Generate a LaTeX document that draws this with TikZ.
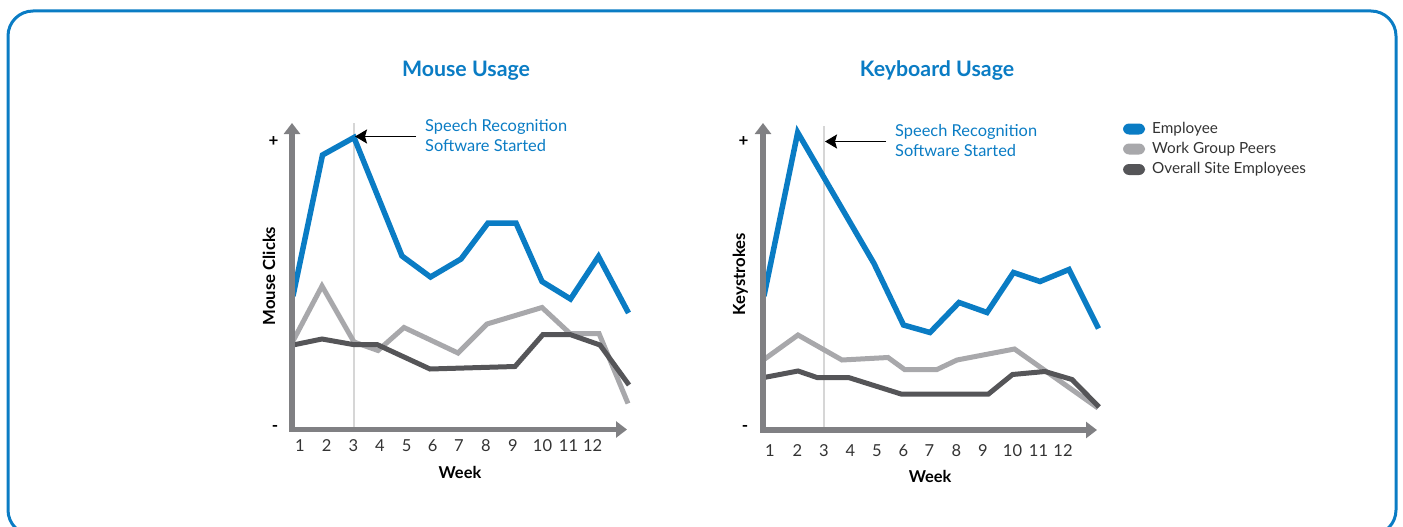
\documentclass[tikz,border=0pt]{standalone}
\usepackage{fontspec}
\setmainfont{Lato}
\usetikzlibrary{arrows.meta}
\definecolor{ibl}{HTML}{0A7CC4}
\definecolor{axg}{HTML}{808083}
\definecolor{lgr}{HTML}{A8A8AB}
\definecolor{dgr}{HTML}{555558}
\definecolor{vln}{HTML}{D6D6D6}
\begin{document}
\begin{tikzpicture}[x=1pt,y=-1pt,
  axisline/.style={axg, line width=5.5pt, {Triangle[width=16pt,length=11pt]}-{Triangle[width=16pt,length=11pt]}},
  refline/.style={vln, line width=2pt},
  empline/.style={ibl, line width=5.5pt},
  peerline/.style={lgr, line width=5pt},
  siteline/.style={dgr, line width=5pt},
  note/.style={black, line width=1.6pt, -{Stealth[width=14pt,length=12pt,inset=2pt]}},
  ttl/.style={ibl, font=\fontsize{21.3}{24}\selectfont\bfseries, anchor=base},
  ann/.style={ibl, font=\fontsize{16.4}{19}\selectfont, anchor=base west, inner sep=0pt},
  wk/.style={font=\fontsize{16.5}{18}\selectfont, text=black!80, anchor=base, inner sep=0pt},
  wklbl/.style={font=\fontsize{16.4}{19}\selectfont\bfseries, anchor=base, inner sep=0pt},
  ylbl/.style={font=\fontsize{16.7}{19}\selectfont\bfseries, rotate=90, anchor=base, inner sep=0pt},
  pm/.style={font=\fontsize{17}{19}\selectfont\bfseries, inner sep=0pt},
  leg/.style={font=\fontsize{15.3}{18}\selectfont, text=black!80, anchor=west, inner sep=0pt},
  pill/.style={rounded corners=6pt, draw=none}]
\useasboundingbox (0,0) rectangle (1403,527);
% frame
\draw[ibl, line width=3pt, rounded corners=25pt] (8,11) rectangle (1396,535);

% ================= Chart 1: Mouse Usage =================
\node[ttl] (t1) at (466,77) {Mouse Usage};
\coordinate (o1) at (292,429.5);
\coordinate (ya1) at (292,123);
\coordinate (xa1) at (627,429.5);
\coordinate (r1t) at (354,123);
\coordinate (r1b) at (354,427);
\draw[refline] (r1t) -- (r1b);
\draw[peerline] plot coordinates {(293,341) (322,286) (354,342) (378,350.5) (404,327.5) (458,353) (487,324) (542,307.5) (570,333.5) (599,333.5) (628,403.5)};
\draw[siteline] plot coordinates {(293,345) (322,339) (353,344.5) (377,344.5) (430,369) (515,366.5) (543,334.5) (570,334.5) (600,345) (629,385)};
\draw[empline] plot coordinates {(293,296) (322.5,155) (354,137.5) (402,256) (430.5,277) (461,259) (488,223) (516,223) (542,281.5) (570.5,299) (598.5,256.5) (628.5,313)};
\draw[axisline] (ya1) -- (o1) -- (xa1);
\node[pm] (p1) at (273.5,141.5) {+};
\node[pm] (m1) at (275,428) {-};
\node[ylbl] (yl1) at (275,276) {Mouse Clicks};
\foreach \n/\xx in {1/300,2/326.7,3/353.3,4/380,5/406.7,6/432.7,7/459,8/486,9/513,10/542.5,11/568.5,12/592.7}
  \node[wk] (w1-\n) at (\xx,451.7) {\n};
\node[wklbl] (wl1) at (460,478.3) {Week};
\coordinate (n1s) at (416,136.5);
\coordinate (n1e) at (355,136.5);
\draw[note] (n1s) -- (n1e);
\node[ann] (a1a) at (425,131.5) {Speech Recognition};
\node[ann] (a1b) at (425,151.7) {Software Started};

% ================= Chart 2: Keyboard Usage =================
\node[ttl] (t2) at (937,77) {Keyboard Usage};
\coordinate (o2) at (763,430);
\coordinate (ya2) at (763,123);
\coordinate (xa2) at (1097,430);
\coordinate (r2t) at (824,126);
\coordinate (r2b) at (824,428);
\draw[refline] (r2t) -- (r2b);
\draw[peerline] plot coordinates {(764,359.5) (798,335) (842,360) (888,357.5) (904.5,369.5) (937,369.5) (957,360) (1014.5,349) (1098,408)};
\draw[siteline] plot coordinates {(764,377.5) (798,371) (817,377.5) (848.5,377.5) (901,394) (988.5,394) (1012.5,374.5) (1045,371.5) (1072,379.5) (1099,407)};
\draw[empline] plot coordinates {(764,296) (797.7,132.5) (874,263.5) (903.5,325) (930,332.5) (959,302.5) (987,312.5) (1013.5,272.5) (1040,281.5) (1069,269.5) (1098.5,328.5)};
\draw[axisline] (ya2) -- (o2) -- (xa2);
\node[pm] (p2) at (743.5,141.5) {+};
\node[pm] (m2) at (745,428.5) {-};
\node[ylbl] (yl2) at (745,274) {Keystrokes};
\foreach \n/\xx in {1/770,2/797.3,3/824,4/850.3,5/877,6/903.5,7/929.3,8/956.3,9/983,10/1012.5,11/1038.5,12/1063}
  \node[wk] (w2-\n) at (\xx,456.7) {\n};
\node[wklbl] (wl2) at (930,482.3) {Week};
\coordinate (n2s) at (886,141.5);
\coordinate (n2e) at (825,141.5);
\draw[note] (n2s) -- (n2e);
\node[ann] (a2a) at (895,136) {Speech Recognition};
\node[ann] (a2b) at (895,156) {Software Started};

% ================= Legend =================
\fill[ibl, pill] (1123,123.5) rectangle (1145,134.5);
\fill[lgr, pill] (1123,143.5) rectangle (1145,154.5);
\fill[dgr, pill] (1123,164) rectangle (1145,175);
\node[leg] (l1) at (1152,129) {Employee};
\node[leg] (l2) at (1152,149) {Work Group Peers};
\node[leg] (l3) at (1152,169.5) {Overall Site Employees};
\end{tikzpicture}
\end{document}
